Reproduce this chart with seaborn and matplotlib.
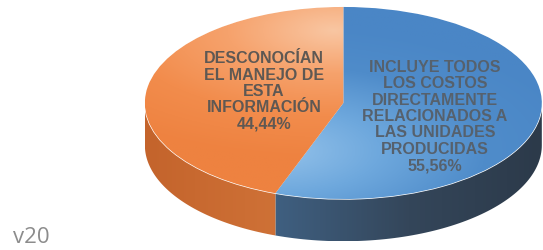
import numpy as np
import seaborn as sns
import matplotlib.pyplot as plt
from matplotlib.patches import Polygon

# data
labels = ["INCLUYE TODOS\nLOS COSTOS\nDIRECTAMENTE\nRELACIONADOS A\nLAS UNIDADES\nPRODUCIDAS",
          "DESCONOCÍAN\nEL MANEJO DE\nESTA\nINFORMACIÓN"]
values = [55.56, 44.44]
pct_text = ["55,56%", "44,44%"]
top_colors = ["#5b9bd5", "#f4955a"]

sns.set_theme(style="white")
plt.rcParams['font.family'] = ['Liberation Sans Narrow', 'Liberation Sans', 'DejaVu Sans']

fig = plt.figure(figsize=(5.43, 2.51), dpi=100)
ax = fig.add_axes([0, 0, 1, 1])

depth = 0.44
wedges, _ = ax.pie(values, colors=top_colors, startangle=90, counterclock=False,
                   radius=1, center=(0, 0), frame=False)
ax.set_aspect('auto')
ax.set_xlim(-1.73, 1.006)
ax.set_ylim(-1.531, 1.083)
ax.axis('off')

# angles of each slice (clockwise from the top)
bounds = 90 - np.cumsum([0] + values) / sum(values) * 360

# side walls (front half only), with horizontal shading
side_maps = [sns.blend_palette(["#4f80ae", "#3f5f80", "#34465a", "#2c3a4a"], as_cmap=True),
             sns.blend_palette(["#c4642c", "#d4783c", "#c96a30"], as_cmap=True)]
for i in range(len(values)):
    a1, a0 = bounds[i], bounds[i + 1]
    lo, hi = max(a0, -180), min(a1, 0)
    if hi <= lo:
        continue
    t = np.radians(np.linspace(lo, hi, 80))
    top = np.column_stack([np.cos(t), np.sin(t)])
    bot = np.column_stack([np.cos(t[::-1]), np.sin(t[::-1]) - depth])
    poly = Polygon(np.vstack([top, bot]), closed=True, facecolor='none', edgecolor='none')
    ax.add_patch(poly)
    xs = np.linspace(-1, 1, 200)
    grad = np.tile(xs, (20, 1))
    img = ax.imshow(grad, extent=(-1, 1, -1 - depth, 0), cmap=side_maps[i],
                    aspect='auto', zorder=1, origin='lower', interpolation='bilinear')
    img.set_clip_path(poly)

# top faces with soft radial shading
top_maps = [sns.blend_palette(["#94c2ea", "#6ea8dd", "#4f8cca", "#4a86c6"], as_cmap=True),
            sns.blend_palette(["#f9c6a2", "#f6a26c", "#f28c4c", "#ee8240"], as_cmap=True)]
light = [(-0.35, -0.5), (-0.05, 0.75)]
gx, gy = np.meshgrid(np.linspace(-1, 1, 300), np.linspace(-1, 1, 300))
for i, w in enumerate(wedges):
    w.set_zorder(2)
    d = np.hypot(gx - light[i][0], (gy - light[i][1]) * 1.2)
    img = ax.imshow(d, extent=(-1, 1, -1, 1), cmap=top_maps[i], origin='lower',
                    aspect='auto', zorder=3, vmin=0, vmax=1.6, interpolation='bilinear')
    img.set_clip_path(w)

# labels
label_pos = [(0.461, -0.13), (-0.40, 0.13)]
text_colors = ['#56616d', '#5e5853']
for i in range(len(values)):
    ax.text(label_pos[i][0], label_pos[i][1], labels[i] + "\n" + pct_text[i],
            ha='center', va='center', fontsize=11.5, fontweight='bold',
            color=text_colors[i], linespacing=1.12, zorder=5)

fig.text(0.024, 0.03, "v20", fontsize=16, color='#8c8c8c', family=['Open Sans', 'DejaVu Sans'])

fig.savefig("out.png", dpi=100)
